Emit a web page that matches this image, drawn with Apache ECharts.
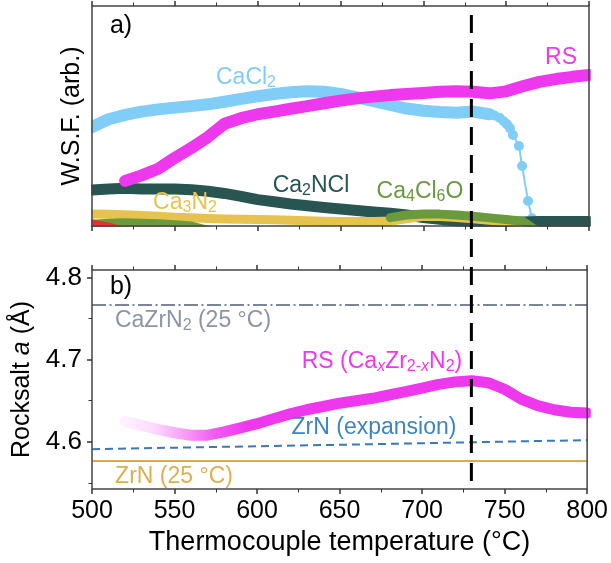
<!DOCTYPE html>
<html><head><meta charset="utf-8">
<script src="https://cdn.jsdelivr.net/npm/echarts@6/dist/echarts.min.js"></script>
<style>html,body{margin:0;padding:0;background:#fff}#c{width:611px;height:563px}</style>
</head><body><div id="c"></div>
<script>
// ---------- data ----------
const tempsTop = [500,510,520,530,540,550,560,570,580,590,600,610,620,630,640,650,660,670,680,690,700,710,720,730,740,750,760,770,780,790,800];
const rsWSF = [null,null,20.5,23,26,31,35.5,40.5,46.5,49,50.8,52,53.3,54.5,55.8,57,58,58.8,59.5,60,60.5,61,61.2,61,60.3,61.2,63.5,65.5,66.8,67.8,68.6];
const cacl2WSF = [45,48.5,50.5,52,53,53.8,54.5,55.3,56.5,57.8,59,60,60.8,61.2,61,60,58.5,56.8,55,53.4,52.4,51.8,51.5,52,50.8,null,null,null,null,null,null];
const cacl2TailT = [740,743,746,748.5,750.5,752.3,754.1,757.7,759.6,763.2,765.6,768];
const cacl2TailV = [50.8,50.2,49.2,47.6,46.2,44.5,41.4,36.4,27.3,11.4,3.5,0];
const ca2nclWSF = [16.4,16.8,17.2,16.8,16.8,16.8,16.5,15.8,14.8,13.5,12,11,10,9.2,8.4,7.7,7,6.4,5.8,5,3.8,3,2.3,1.9,1.7,1.7,1.8,2,2.1,2.1,2.1];
const ca3n2WSF = [5.5,5.3,5.1,4.8,4.4,4.0,3.7,3.4,3.2,3.1,3.0,2.8,2.6,2.4,2.2,2.1,2.0,2.0,2.3,3.3,4.4,4.3,3.9,3.3,2.6,2.0,1.3,null,null,null,null];
const ca4cl6oWSF = [0.8,1.2,1.5,1.3,1.0,0.6,0.0,-2,-4,null,null,null,null,null,null,null,null,null,3.8,5.0,5.5,5.4,5.0,4.4,3.7,3.0,2.2,-3,null,null,null];
const redT = [500,510,520];
const redWSF = [1.0,-0.5,-2.5];

const tempsRS = [520,530,540,550,560,570,580,590,600,610,620,630,640,650,660,670,680,690,700,710,720,730,740,750,760,770,780,790,800];
const rsLattice = [4.625,4.620,4.615,4.611,4.608,4.608,4.612,4.617,4.622,4.628,4.634,4.639,4.643,4.647,4.650,4.653,4.657,4.661,4.6655,4.670,4.673,4.6745,4.672,4.664,4.652,4.644,4.639,4.636,4.635];
const refT = [500,650,800];
const caZrN2Ref = [4.7667,4.7667,4.7667];
const zrNExpansion = [4.591,4.5963,4.602];
const zrNRef = [4.5765,4.5765,4.5765];
const transitionT = 729;
const yMajorB = [4.6,4.7,4.8];
const yMinorB = [4.55,4.65,4.75];

const pairs = (xs, ys) => xs.map((x, i) => [x, ys[i]]);

// ---------- style ----------
const FONT = 'Liberation Sans, Arial, sans-serif';
const C = {rs:'#ee38ee', cacl2:'#80cdf8', ca2ncl:'#285452', ca3n2:'#e6c34e', ca4cl6o:'#6a9a3c', red:'#e8302a',
  cazrn2:'#7a8698', cazrn2Txt:'#8a95a6', zrnExp:'#3a78b8', zrnExpTxt:'#3d85c2', zrn:'#d9ab4e', zrnTxt:'#dcb050'};
const AZ = 30;
const tick = {show:true, length:5, lineStyle:{color:'#333', width:1.5}};
const minor = {show:true, splitNumber:2, length:3.5, lineStyle:{color:'#333', width:1}};
const xBase = (grid, pos, labels) => ({
  gridIndex:grid, type:'value', min:500, max:800, interval:50, position:pos, z:AZ,
  axisLine:{show:false}, axisTick:tick, minorTick:minor, splitLine:{show:false},
  axisLabel:{show:labels, fontSize:25, color:'#000', fontFamily:FONT, margin:10}
});

const chart = echarts.init(document.getElementById('c'), null, {renderer:'canvas'});
const bandLine = (name, xs, ys, color, width, z) => ({
  name, type:'line', xAxisIndex:0, yAxisIndex:0, data:pairs(xs, ys), symbol:'none',
  lineStyle:{color, width, cap:'round', join:'round'}, z, animation:false, silent:true
});

const rsGrad = new echarts.graphic.LinearGradient(0,0,1,0,[
  {offset:0, color:'rgba(238,56,238,0.05)'},
  {offset:0.07, color:'rgba(238,56,238,0.18)'},
  {offset:0.14, color:'rgba(238,56,238,0.5)'},
  {offset:0.2, color:'rgba(238,56,238,0.82)'},
  {offset:0.27, color:'rgba(238,56,238,1)'},
  {offset:1, color:'rgba(238,56,238,1)'}
]);

const option = {
  backgroundColor:'#fff',
  animation:false,
  grid:[
    {left:92, right:22, top:6, height:220, show:true, z:AZ, borderColor:'#444', borderWidth:1.5, backgroundColor:'transparent'},
    {left:92, right:22, top:270, height:219, show:true, z:AZ, borderColor:'#444', borderWidth:1.5, backgroundColor:'transparent'}
  ],
  xAxis:[
    xBase(0,'bottom',false),
    xBase(0,'top',false),
    Object.assign(xBase(1,'bottom',true), {name:'Thermocouple temperature (°C)', nameLocation:'middle', nameGap:40,
      nameTextStyle:{fontSize:27, color:'#000', fontFamily:FONT}}),
    xBase(1,'top',false)
  ],
  yAxis:[
    {gridIndex:0, type:'value', min:0, max:100, z:AZ, axisLine:{show:false}, axisTick:{show:false}, axisLabel:{show:false}, splitLine:{show:false},
     name:'W.S.F. (arb.)', nameLocation:'middle', nameGap:7, nameTextStyle:{fontSize:25, color:'#000', fontFamily:FONT}},
    {gridIndex:1, type:'value', min:4.5424, max:4.8094, position:'left', z:AZ, axisLine:{show:false}, splitLine:{show:false},
     axisTick:{show:true, length:5, lineStyle:{color:'#333', width:1.5}, customValues:yMajorB},
     axisLabel:{show:true, customValues:yMajorB, formatter:v => v.toFixed(1), fontSize:26, color:'#000', fontFamily:FONT, margin:10},
     name:'{n|Rocksalt }{i|a}{n| (Å)}', nameLocation:'middle', nameGap:57,
     nameTextStyle:{fontSize:25, color:'#000', fontFamily:FONT,
       rich:{n:{fontSize:25, color:'#000', fontFamily:FONT}, i:{fontSize:25, color:'#000', fontFamily:FONT, fontStyle:'italic'}}}},
    {gridIndex:1, type:'value', min:4.5424, max:4.8094, position:'left', z:AZ, axisLine:{show:false}, splitLine:{show:false},
     axisTick:{show:true, length:3.5, lineStyle:{color:'#333', width:1}, customValues:yMinorB}, axisLabel:{show:false}}
  ],
  series:[
    bandLine('CaCl2', tempsTop, cacl2WSF, C.cacl2, 12, 2),
    {name:'CaCl2 tail', type:'line', xAxisIndex:0, yAxisIndex:0, data:pairs(cacl2TailT, cacl2TailV),
     symbol:'circle', symbolSize:10, showAllSymbol:true, itemStyle:{color:C.cacl2}, lineStyle:{color:C.cacl2, width:2}, z:3, silent:true},
    bandLine('Ca2NCl', tempsTop, ca2nclWSF, C.ca2ncl, 11, 4),
    bandLine('Ca3N2', tempsTop, ca3n2WSF, C.ca3n2, 9, 5),
    bandLine('Ca4Cl6O', tempsTop, ca4cl6oWSF, C.ca4cl6o, 9, 6),
    bandLine('red', redT, redWSF, C.red, 9, 7),
    bandLine('RS', tempsTop, rsWSF, C.rs, 12, 8),
    // bottom panel
    {name:'CaZrN2 ref', type:'line', xAxisIndex:2, yAxisIndex:1, data:pairs(refT, caZrN2Ref), symbol:'none',
     lineStyle:{color:C.cazrn2, width:2, type:[14,3.5,2,3.5]}, z:3, silent:true},
    {name:'ZrN 25', type:'line', xAxisIndex:2, yAxisIndex:1, data:pairs(refT, zrNRef), symbol:'none',
     lineStyle:{color:C.zrn, width:2}, z:3, silent:true},
    {name:'ZrN exp', type:'line', xAxisIndex:2, yAxisIndex:1, data:pairs(refT, zrNExpansion), symbol:'none',
     lineStyle:{color:C.zrnExp, width:2, type:[8,5]}, z:3, silent:true},
    {name:'RS lattice', type:'line', xAxisIndex:2, yAxisIndex:1, data:pairs(tempsRS, rsLattice), symbol:'none',
     lineStyle:{color:rsGrad, width:11, cap:'round', join:'round'}, z:5, silent:true}
  ]
};
chart.setOption(option);

const px = chart.convertToPixel({xAxisIndex:0}, transitionT);
const T = (x, y, text, rich, color, size) => ({
  type:'text', x, y, z:50, silent:true,
  style:{text, fill:color, font:`${size||23}px ${FONT}`, align:'center', verticalAlign:'middle', rich}
});
const richFor = (color, size) => ({
  n:{fontSize:size, lineHeight:size+3, color, fontFamily:FONT},
  s:{fontSize:Math.round(size*0.68), lineHeight:Math.round(size*0.68), verticalAlign:'bottom', color, fontFamily:FONT},
  si:{fontSize:Math.round(size*0.68), lineHeight:Math.round(size*0.68), verticalAlign:'bottom', color, fontFamily:FONT, fontStyle:'italic'}
});
const mask = (x, y, w, h) => ({type:'rect', z:20, silent:true, shape:{x, y, width:w, height:h}, style:{fill:'#fff'}});
const A = 23;
chart.setOption({
  graphic:[
    mask(0, 0, 91.2, 563),
    mask(590.8, 0, 20.2, 563),
    mask(0, 226.8, 611, 42.4),
    T(121, 26, 'a)', null, '#000', 25),
    T(121, 287, 'b)', null, '#000', 25),
    T(246, 78, '{n|CaCl}{s|2}', richFor(C.cacl2, A), C.cacl2),
    T(561, 58, '{n|RS}', richFor(C.rs, A), C.rs),
    T(311, 186, '{n|Ca}{s|2}{n|NCl}', richFor(C.ca2ncl, A), C.ca2ncl),
    T(185, 203, '{n|Ca}{s|3}{n|N}{s|2}', richFor(C.ca3n2, A), C.ca3n2),
    T(420, 192, '{n|Ca}{s|4}{n|Cl}{s|6}{n|O}', richFor(C.ca4cl6o, A), C.ca4cl6o),
    T(193, 321, '{n|CaZrN}{s|2}{n| (25 °C)}', richFor(C.cazrn2Txt, A), C.cazrn2Txt),
    T(382, 362, '{n|RS (Ca}{si|x}{n|Zr}{s|2-}{si|x}{n|N}{s|2}{n|)}', richFor(C.rs, A), C.rs),
    T(374, 428, '{n|ZrN (expansion)}', richFor(C.zrnExpTxt, A), C.zrnExpTxt),
    T(174, 477, '{n|ZrN (25 °C)}', richFor(C.zrnTxt, A), C.zrnTxt),
    {type:'line', z:100, silent:true, shape:{x1:px, y1:15, x2:px, y2:490},
     style:{stroke:'#000', lineWidth:3, lineDash:[18,10]}}
  ]
});
</script>
</body></html>
